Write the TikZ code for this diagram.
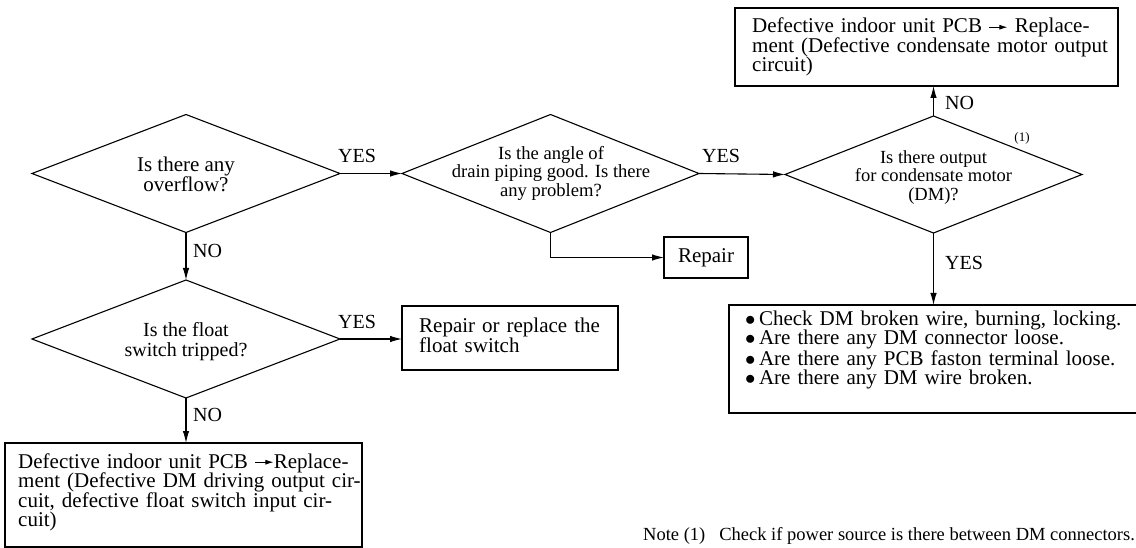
\documentclass[tikz,border=0pt]{standalone}
\usepackage{fontspec}
\setmainfont{Liberation Serif}
\usetikzlibrary{shapes.geometric,arrows.meta}
\newcommand{\pcbarrow}{\tikz[baseline=-0.6ex]\draw[line width=0.9pt,-{Latex[length=8pt,width=5pt]}] (0pt,0pt)--(18pt,0pt);}
\begin{document}
\begin{tikzpicture}[x=1pt,y=-1pt,
  dia/.style={draw, diamond, line width=1.1pt, inner sep=0pt, outer sep=0pt},
  box/.style={draw, rectangle, line width=1.3pt, inner sep=0pt, outer sep=0pt},
  btxt/.style={inner sep=0pt, anchor=base west, align=left, font=\fontsize{21}{19.5}\selectfont},
  dtxt/.style={inner sep=0pt, anchor=center, align=center},
  lbl/.style={inner sep=0pt, anchor=base west, font=\fontsize{20}{20}\selectfont},
  conn/.style={line width=1.1pt, -{Latex[length=12pt,width=6.5pt]}},
]
\useasboundingbox (0,0) rectangle (1136,548);

% diamonds
\node[dia, minimum width=308pt, minimum height=118pt] (d1) at (186,173.5) {};
\node[dia, minimum width=297pt, minimum height=118pt] (d2) at (550.5,173.5) {};
\node[dia, minimum width=297pt, minimum height=117pt] (d3) at (933.5,174.5) {};
\node[dia, minimum width=308pt, minimum height=118pt] (d4) at (186,339) {};

\node[dtxt, font=\fontsize{21}{20}\selectfont] (t1) at (186,174.5) {Is there any\\overflow?};
\node[dtxt, font=\fontsize{18.6}{18.5}\selectfont] (t2) at (551,173) {Is the angle of\\drain piping good. Is there\\any problem?};
\node[dtxt, font=\fontsize{18.5}{18.5}\selectfont] (t3) at (933.5,177.5) {Is there output\\for condensate motor\\(DM)?};
\node[dtxt, font=\fontsize{20}{20}\selectfont] (t4) at (186,342) {Is the float\\switch tripped?};
\node[inner sep=0pt, font=\fontsize{13}{13}\selectfont] (n1) at (1022,138) {(1)};

% boxes
\node[box, minimum width=383pt, minimum height=78pt] (tb) at (926.5,47) {};
\node[btxt, text width=361pt] (tbt) at (752,33) {%
\makebox[361pt][s]{Defective indoor unit PCB \pcbarrow{} Replace-}\\
\makebox[361pt][s]{ment (Defective condensate motor output}\\
circuit)};

\node[box, minimum width=84pt, minimum height=41pt] (rep) at (706,257.5) {};
\node[inner sep=0pt, font=\fontsize{21}{19.5}\selectfont] (rept) at (706,257.5) {Repair};

\node[box, minimum width=216pt, minimum height=64pt] (rr) at (510,338) {};
\node[btxt, text width=200pt] (rrt) at (419,333) {Repair or replace the\\float switch};

\node[box, minimum width=408pt, minimum height=108pt] (bb) at (933,359) {};
\node[btxt, text width=390pt, font=\fontsize{21}{20}\selectfont] (bbt) at (745,325) {%
$\bullet$\,Check DM broken wire, burning, locking.\\
$\bullet$\,Are there any DM connector loose.\\
$\bullet$\,Are there any PCB faston terminal loose.\\
$\bullet$\,Are there any DM wire broken.};

\node[box, minimum width=357pt, minimum height=104pt] (bl) at (183.5,495) {};
\node[btxt, text width=330pt] (blt) at (18,468) {%
\makebox[330pt][s]{Defective indoor unit PCB \pcbarrow{}Replace-}\\
\makebox[330pt][s]{ment (Defective DM driving output cir-}\\
\makebox[330pt][s]{cuit, defective float switch input cir-}\\
cuit)};

% note
\node[inner sep=0pt, anchor=base west, font=\fontsize{18.5}{18.5}\selectfont] (note) at (643,540) {Note (1)\hspace{14pt}Check if power source is there between DM connectors.};

% connectors
\draw[conn] (d1.east) -- (d2.west);
\draw[conn] (d2.east) -- (d3.west);
\draw[conn] (d3.north) -- (d3.north |- tb.south);
\draw[conn] (d3.south) -- (d3.south |- bb.north);
\draw[conn] (d2.south) |- (rep.west);
\draw[conn] (d1.south) -- (d4.north);
\draw[conn] (d4.east) -- (d4.east -| rr.west);
\draw[conn] (d4.south) -- (d4.south |- bl.north);

% labels
\node[lbl] (y1) at (338,163) {YES};
\node[lbl] (y2) at (702,163) {YES};
\node[lbl] (no1) at (945,110) {NO};
\node[lbl] (y3) at (945,270) {YES};
\node[lbl] (no2) at (193,258) {NO};
\node[lbl] (y4) at (338,328) {YES};
\node[lbl] (no3) at (193,421.7) {NO};
\end{tikzpicture}
\end{document}
